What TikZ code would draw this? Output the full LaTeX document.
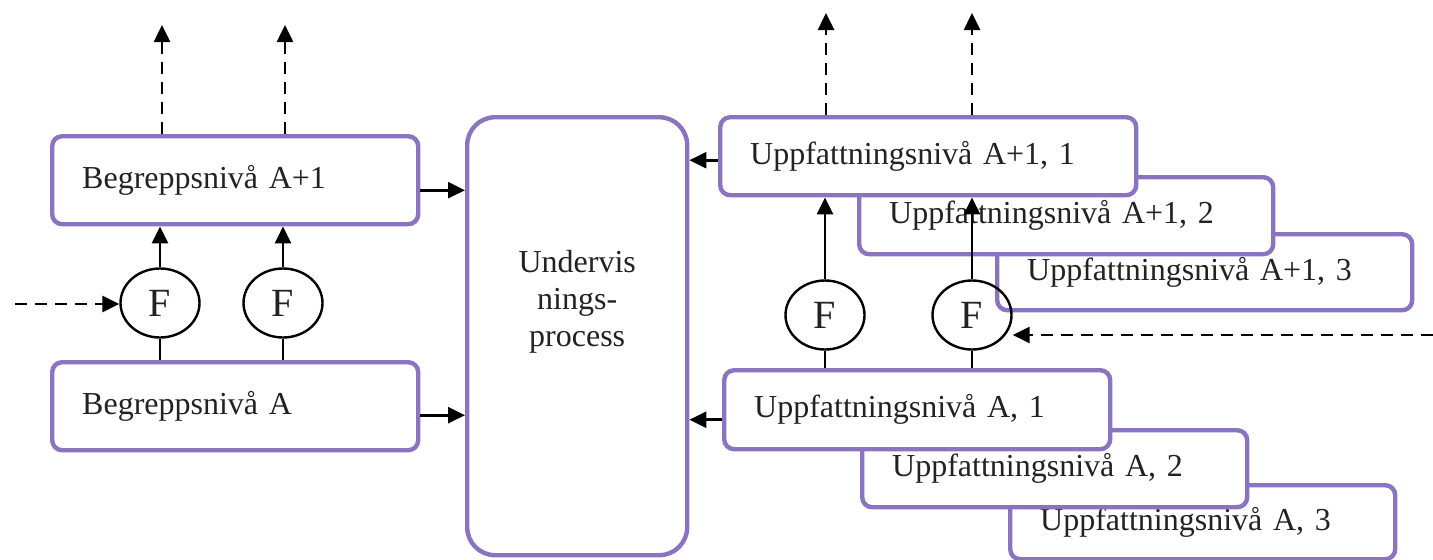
\documentclass[tikz,border=0pt]{standalone}
\usepackage{fontspec}
\setmainfont{Liberation Serif}
\usetikzlibrary{arrows.meta,shapes.geometric}
\definecolor{frame}{HTML}{8A74C0}
\definecolor{ink}{HTML}{222222}

\begin{document}
\begin{tikzpicture}[x=0.5pt,y=-0.5pt,>={Triangle[length=8.5pt,width=8pt]},
  every node/.style={font=\fontsize{16}{18.5}\selectfont,text=ink},
  level/.style={draw=frame,line width=2.2pt,rounded corners=5pt,fill=white,anchor=north west,inner xsep=15pt,inner ysep=0pt,align=left},
  fnode/.style={draw,ellipse,line width=1.2pt,minimum width=39.5pt,minimum height=34.5pt,inner sep=0pt,font=\fontsize{20}{24}\selectfont},
  flow/.style={->,line width=1.3pt},
  feed/.style={->,line width=1.3pt,dash pattern=on 6pt off 4pt}]
\useasboundingbox (0,0) rectangle (1433,559);
% left column
\node[level,text width=153pt,minimum height=44pt] (b1) at (50,134) {Begreppsnivå A+1\\[-4pt]};
\node[level,text width=153pt,minimum height=44pt] (b0) at (50,360) {Begreppsnivå A};
\node[fnode] (f1) at (160,303) {F};
\node[fnode] (f2) at (283,303) {F};
% centre
\node[level,rounded corners=14pt,minimum width=110pt,minimum height=219pt,inner sep=0pt,
  label={[align=center,yshift=17pt]center:Undervis\\nings-\\process}] (und) at (465,115) {};
% right column, upper stack
\node[level,text width=177.5pt,minimum height=38pt] (u13) at (995,232) {Uppfattningsnivå A+1, 3};
\node[level,text width=177pt,minimum height=38.5pt] (u12) at (857,175) {Uppfattningsnivå A+1, 2};
\node[level,text width=178pt,minimum height=39pt] (u11) at (718,115) {Uppfattningsnivå A+1, 1};
% right column, lower stack
\node[level,text width=162.5pt,minimum height=37pt] (u03) at (1008,483) {Uppfattningsnivå A, 3};
\node[level,text width=162.5pt,minimum height=38.5pt] (u02) at (860,428) {Uppfattningsnivå A, 2};
\node[level,text width=163pt,minimum height=39.5pt] (u01) at (722,368) {Uppfattningsnivå A, 1};
\node[fnode] (f3) at (825,315) {F};
\node[fnode] (f4) at (972,315) {F};
% free ends
\coordinate (o1) at (162,25);
\coordinate (o2) at (285,25);
\coordinate (o3) at (826,13);
\coordinate (o4) at (972,13);
\coordinate (in1) at (15,304);
\coordinate (in4) at (1433,335);
% connectors
\foreach \f/\o in {f1/o1,f2/o2}{
  \draw[flow] (\f.north) -- (\f.north |- b1.south);
  \draw[line width=1.3pt] (\f.south) -- (\f.south |- b0.north);
  \draw[feed] (\o |- b1.north) -- (\o);
}
\foreach \f/\o in {f3/o3,f4/o4}{
  \draw[flow] (\f.north) -- (\f.north |- u11.south);
  \draw[line width=1.3pt] (\f.south) -- (\f.south |- u01.north);
  \draw[feed] (\o |- u11.north) -- (\o);
}
\draw[feed] (in1) -- (in1 -| f1.west);
\draw[feed] (in4) -- (in4 -| f4.east);
\draw[flow] ([yshift=-5pt]b1.east) -- ([yshift=-5pt]b1.east -| und.west);
\draw[flow] ([yshift=-4.5pt]b0.east) -- ([yshift=-4.5pt]b0.east -| und.west);
\draw[flow] ([yshift=-2pt]u11.west) -- ([yshift=-2pt]u11.west -| und.east);
\draw[flow] ([yshift=-5pt]u01.west) -- ([yshift=-5pt]u01.west -| und.east);
\end{tikzpicture}
\end{document}
